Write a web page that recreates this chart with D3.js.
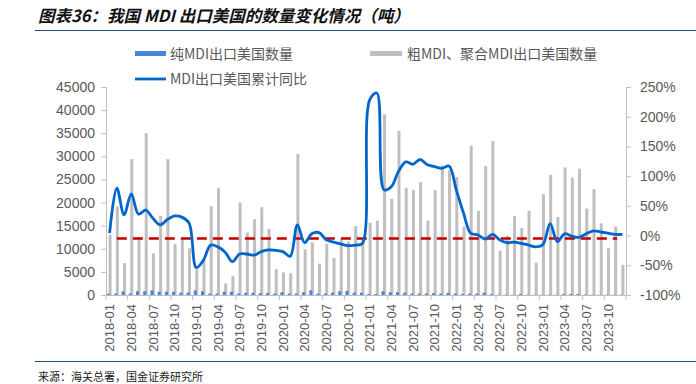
<!DOCTYPE html>
<meta charset="utf-8">
<body style="margin:0;background:#fff;">
<script src="https://d3js.org/d3.v7.min.js"></script>
<script>
// months 2018-01 .. 2023-12
var months = [];
for (var yy = 2018; yy <= 2023; yy++) {
  for (var mm = 1; mm <= 12; mm++) months.push(yy + "-" + (mm < 10 ? "0" + mm : mm));
}

// 粗MDI、聚合MDI出口美国数量 (吨)
var crudeQty = [
  13000, 19200, 6900, 29400, 12500, 35000, 9000, 17100, 29400, 11000, 12100, 10100,
  5500, 7800, 19200, 23200, 2500, 4100, 20000, 13500, 16400, 19000, 14300, 5600,
  4900, 4700, 30500, 9900, 11400, 6800, 11100, 8000, 12000, 11600, 14900, 12000,
  15600, 16100, 39100, 20800, 35500, 23200, 22700, 24400, 16100, 22700, 28000, 27000,
  25500, 14800, 32300, 18200, 27900, 33300, 9600, 12800, 17100, 14500, 18200, 7000,
  21800, 26000, 16900, 27600, 25400, 27300, 18700, 22900, 15500, 10100, 14800, 6500
];

// 纯MDI出口美国数量 (吨)
var pureQty = [
  300, 300, 800, 300, 800, 800, 1000, 700, 700, 700, 500, 500,
  1000, 800, 300, 300, 700, 700, 300, 500, 500, 400, 400, 300,
  600, 300, 300, 600, 1000, 300, 300, 500, 800, 900, 500, 500,
  200, 200, 800, 600, 600, 500, 300, 300, 300, 400, 300, 500,
  300, 200, 300, 300, 500, 200, 50, 50, 50, 200, 50, 50,
  50, 50, 50, 200, 200, 200, 100, 50, 50, 50, 50, 50
];

// MDI出口美国累计同比 (%)
var yoy = [
  4, 80, 35, 70, 36, 43, 29, 18, 27, 33, 31, 21,
  -54, -41, -16, -19, -28, -44, -31, -31, -33, -27, -24, -25,
  -27, -35, 18, -12, 3, 5, -7, -11, -14, -17, -16, -13,
  228, 240, 77, 82, 108, 124, 120, 128, 119, 116, 113, 117,
  77, 38, 4, 1, -6, 2, -7, -12, -11, -13, -16, -19,
  -15, 20, -10, 3, -1, -3, 3, 8, 6, 4, 2, 2
];

var refLevel = -5;   // 红色虚线
var leftTicks = [0, 5000, 10000, 15000, 20000, 25000, 30000, 35000, 40000, 45000];
var rightTicks = [-100, -50, 0, 50, 100, 150, 200, 250];

var W = 696, H = 384;
var L = 106, R = 626, T = 87, B = 295;
var grey = "#595959", axisCol = "#bfbfbf";
var cjk = "'Noto Sans CJK SC', sans-serif";
var lat = "'Liberation Sans', Arial, sans-serif";

var svg = d3.select("body").append("svg").attr("width", W).attr("height", H);

// title
svg.append("text").attr("x", 38).attr("y", 22)
  .style("font-family", cjk).style("font-size", "16.5px").style("font-weight", "bold")
  .style("font-style", "italic").style("fill", "#111")
  .text("图表36：我国 MDI 出口美国的数量变化情况（吨）");
svg.append("line").attr("x1", 35).attr("x2", W).attr("y1", 30.5).attr("y2", 30.5)
  .style("stroke", "#1f4e79").style("stroke-width", 1.2);

// footer
svg.append("line").attr("x1", 35).attr("x2", W).attr("y1", 361.5).attr("y2", 361.5)
  .style("stroke", "#1f4e79").style("stroke-width", 1.2);
svg.append("text").attr("x", 38).attr("y", 381)
  .style("font-family", cjk).style("font-size", "11px").style("fill", "#222")
  .text("来源：海关总署，国金证券研究所");

// scales
var x = d3.scaleBand().domain(months).range([L, R]).padding(0);
var y = d3.scaleLinear().domain([0, 45000]).range([B, T]);
var y2 = d3.scaleLinear().domain([-100, 250]).range([B, T]);

// left / right axes
var gl = svg.append("g").attr("transform", "translate(" + L + ",0)")
  .call(d3.axisLeft(y).tickValues(leftTicks).tickSize(5).tickPadding(6).tickFormat(d3.format("d")));
var gr = svg.append("g").attr("transform", "translate(" + R + ",0)")
  .call(d3.axisRight(y2).tickValues(rightTicks).tickSize(5).tickPadding(9).tickFormat(function(d) { return d + "%"; }));
[gl, gr].forEach(function(g) {
  g.select(".domain").style("stroke", axisCol);
  g.selectAll(".tick line").style("stroke", axisCol);
  g.selectAll("text").style("font-family", lat).style("font-size", "14px").style("fill", grey);
});

// bars
var bw = 3;
svg.selectAll(".crude").data(crudeQty).enter().append("rect")
  .attr("x", function(d, i) { return x(months[i]) + x.bandwidth() / 2 - 1; })
  .attr("width", bw)
  .attr("y", function(d) { return y(d); })
  .attr("height", function(d) { return B - y(d); })
  .style("fill", "#bfbfbf");
svg.selectAll(".pure").data(pureQty).enter().append("rect")
  .attr("x", function(d, i) { return x(months[i]) + x.bandwidth() / 2 - 2.5; })
  .attr("width", bw)
  .attr("y", function(d) { return y(d); })
  .attr("height", function(d) { return B - y(d); })
  .style("fill", "#4a86d8");

// bottom axis
var gb = svg.append("g").attr("transform", "translate(0," + B + ")")
  .call(d3.axisBottom(x).tickValues(months.filter(function(d, i) { return i % 3 == 0; })).tickSize(0).tickPadding(0));
gb.select(".domain").style("stroke", axisCol);
gb.selectAll("text")
  .attr("transform", "rotate(-90)").attr("x", -9).attr("y", 0).attr("dy", "0.35em")
  .style("text-anchor", "end")
  .style("font-family", lat).style("font-size", "13px").style("fill", grey);
var tickPos = months.filter(function(d, i) { return i % 3 == 0; }).map(function(d) { return x(d); });
tickPos.push(R);
svg.selectAll(".xt").data(tickPos).enter().append("line")
  .attr("x1", function(d) { return d; }).attr("x2", function(d) { return d; })
  .attr("y1", B).attr("y2", B + 5).style("stroke", axisCol);

// red dashed reference line
svg.append("line")
  .attr("x1", x(months[1]) + x.bandwidth() / 2).attr("x2", x(months[70]) + x.bandwidth() / 2 + 2)
  .attr("y1", y2(refLevel)).attr("y2", y2(refLevel))
  .style("stroke", "#c00000").style("stroke-width", 2.6).style("stroke-dasharray", "10,6");

// yoy line
var line = d3.line()
  .x(function(d, i) { return x(months[i]) + x.bandwidth() / 2; })
  .y(function(d) { return y2(d); })
  .curve(d3.curveCatmullRom.alpha(0.5));
svg.append("path").datum(yoy).attr("d", line)
  .style("fill", "none").style("stroke", "#0066cc").style("stroke-width", 2.8);

// legend
var lg = svg.append("g").style("font-family", cjk).style("font-size", "14px").style("fill", grey);
lg.append("rect").attr("x", 135).attr("y", 51).attr("width", 31).attr("height", 5).style("fill", "#4a86d8");
lg.append("text").attr("x", 170).attr("y", 59).text("纯MDI出口美国数量");
lg.append("rect").attr("x", 370).attr("y", 51).attr("width", 32).attr("height", 5).style("fill", "#bfbfbf");
lg.append("text").attr("x", 407).attr("y", 59).text("粗MDI、聚合MDI出口美国数量");
lg.append("line").attr("x1", 135).attr("x2", 166).attr("y1", 79).attr("y2", 79)
  .style("stroke", "#0066cc").style("stroke-width", 2.8);
lg.append("text").attr("x", 170).attr("y", 84).text("MDI出口美国累计同比");
</script>
</body>
